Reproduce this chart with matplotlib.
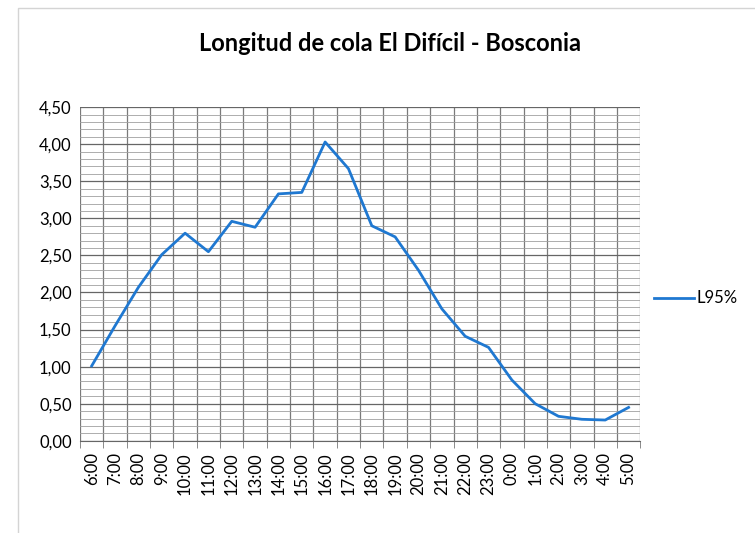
import matplotlib
matplotlib.use("Agg")
import matplotlib.pyplot as plt
from matplotlib.ticker import MultipleLocator, FuncFormatter, FixedLocator
from matplotlib.patches import Rectangle

plt.rcParams['font.family'] = ['Lato', 'DejaVu Sans']

# datos
horas = ['6:00', '7:00', '8:00', '9:00', '10:00', '11:00', '12:00', '13:00',
         '14:00', '15:00', '16:00', '17:00', '18:00', '19:00', '20:00', '21:00',
         '22:00', '23:00', '0:00', '1:00', '2:00', '3:00', '4:00', '5:00']
l95 = [1.01, 1.55, 2.07, 2.51, 2.80, 2.55, 2.96, 2.88,
       3.33, 3.35, 4.03, 3.67, 2.90, 2.75, 2.30, 1.78,
       1.41, 1.26, 0.82, 0.50, 0.33, 0.29, 0.28, 0.45]

fig = plt.figure(figsize=(7.55, 5.33), dpi=100)

# borde del area del grafico (escaneado, apenas visible)
fig.patches.append(Rectangle((0.024, -0.1), 1.2, 1.085, transform=fig.transFigure,
                             fill=False, edgecolor='#d4d4d4', linewidth=1.0))

ax = fig.add_axes([0.106, 0.173, 0.742, 0.626])

x = list(range(len(horas)))
linea, = ax.plot(x, l95, color='#1f78d1', linewidth=2.0, label='L95%')

ax.set_xlim(-0.5, len(horas) - 0.5)
ax.set_ylim(0, 4.5)
ax.yaxis.set_major_locator(MultipleLocator(0.5))
ax.yaxis.set_minor_locator(MultipleLocator(0.1))
ax.yaxis.set_major_formatter(FuncFormatter(lambda v, p: f'{v:.2f}'.replace('.', ',')))

ax.set_xticks(x)
ax.set_xticklabels(horas, rotation=90, fontsize=12)
ax.xaxis.set_minor_locator(FixedLocator([i - 0.5 for i in range(len(horas) + 1)]))
ax.tick_params(axis='x', which='major', length=0, pad=8)
ax.tick_params(axis='x', which='minor', length=5, color='#777777')
ax.tick_params(axis='y', which='both', length=0, labelsize=12, pad=6)

ax.grid(axis='y', which='major', color='#666666', linewidth=0.9)
ax.grid(axis='y', which='minor', color='#a0a0a0', linewidth=0.6)
ax.grid(axis='x', which='minor', color='#7a7a7a', linewidth=0.9)
ax.set_axisbelow(True)
for s in ['top', 'right', 'left']:
    ax.spines[s].set_visible(False)
ax.spines['bottom'].set_color('#666666')

fig.text(0.517, 0.918, 'Longitud de cola El Difícil - Bosconia', ha='center', va='center',
         fontsize=17, fontweight='bold')

fig.legend(handles=[linea], loc='center left', bbox_to_anchor=(0.846, 0.44),
           frameon=False, fontsize=12, handlelength=2.4, handletextpad=0.15)

fig.savefig('out.png', dpi=100)
